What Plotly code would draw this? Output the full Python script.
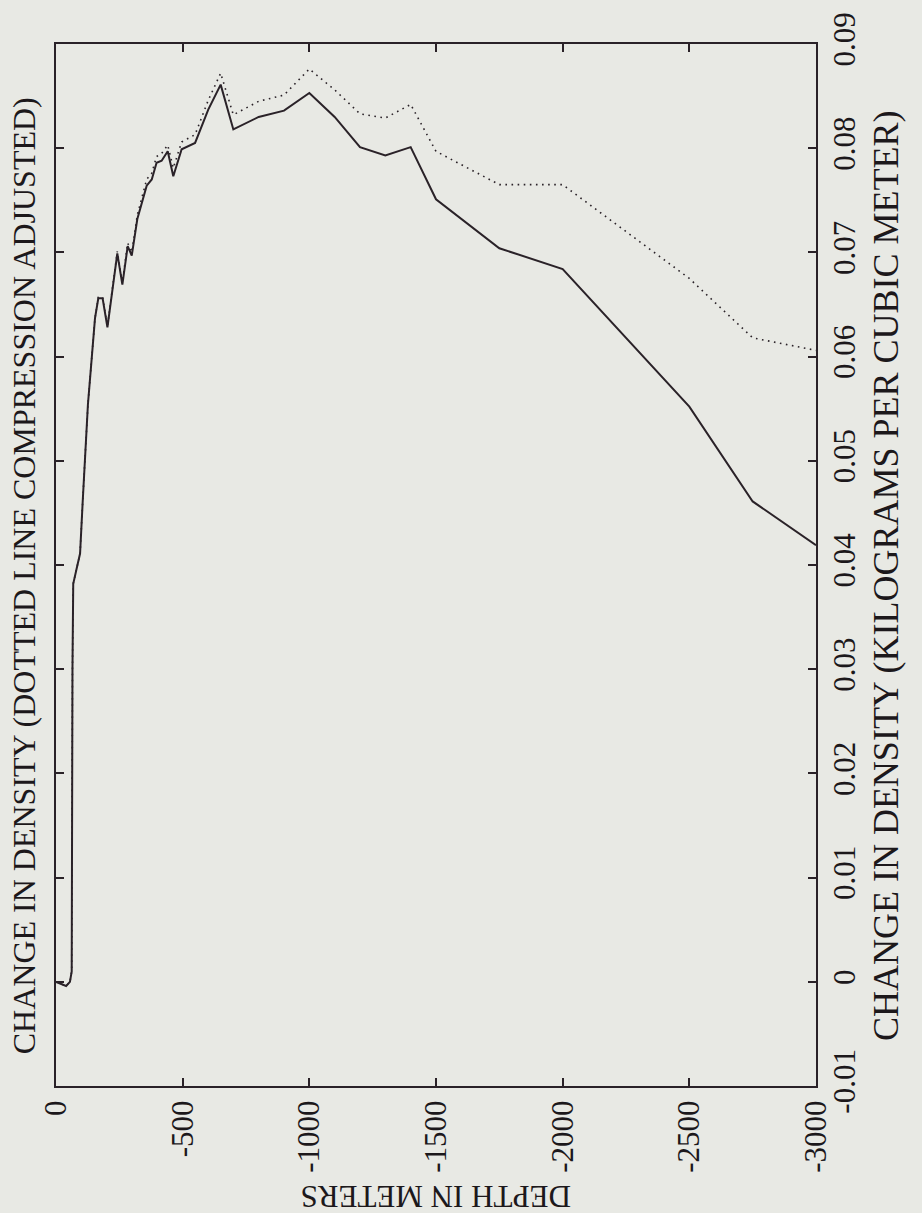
import plotly.graph_objects as go

# ---- data (depth in metres, change in density in kg/m^3) ----
solid_depth = [0, -20, -40, -55, -62, -65, -68, -80, -95, -105, -126, -154, -167, -184,
               -203, -242, -262, -283, -299, -321, -358, -378, -397, -417, -441, -463,
               -496, -549, -601, -650, -700, -800, -900, -1000, -1100, -1200, -1300,
               -1400, -1500, -1750, -2000, -2500, -2750, -3000]
solid_density = [0.0, -0.0002, -0.0004, 0.0, 0.001, 0.030, 0.0382, 0.0395, 0.0411, 0.0459,
                 0.0554, 0.0637, 0.0656, 0.0656, 0.0628, 0.0699, 0.0669, 0.0706, 0.0697,
                 0.0732, 0.0764, 0.0770, 0.0786, 0.0788, 0.0797, 0.0773, 0.0799, 0.0805,
                 0.0837, 0.0861, 0.0818, 0.0830, 0.0836, 0.0853, 0.0830, 0.0801, 0.0793,
                 0.0801, 0.0751, 0.0704, 0.0684, 0.0552, 0.0461, 0.0419]

dotted_depth = [0, -20, -40, -55, -62, -65, -68, -80, -95, -105, -126, -154, -167, -184,
                -203, -242, -262, -283, -299, -321, -358, -378, -397, -417, -441, -463,
                -496, -549, -601, -650, -700, -800, -900, -1000, -1100, -1200, -1300,
                -1400, -1500, -1750, -2000, -2500, -2750, -3000]
dotted_density = [0.0, -0.0002, -0.0004, 0.0, 0.001, 0.030, 0.0382, 0.0395, 0.0411, 0.0459,
                  0.0554, 0.0637, 0.0657, 0.0657, 0.0629, 0.0701, 0.0671, 0.0709, 0.0700,
                  0.0736, 0.0770, 0.0776, 0.0792, 0.0795, 0.0803, 0.0781, 0.0806, 0.0813,
                  0.0846, 0.0872, 0.0832, 0.0845, 0.0851, 0.0876, 0.0856, 0.0833, 0.0829,
                  0.0842, 0.0797, 0.0765, 0.0765, 0.0675, 0.0618, 0.0606]

depth_ticks = [0, -500, -1000, -1500, -2000, -2500, -3000]
depth_labels = ["0", "-500", "-1000", "-1500", "-2000", "-2500", "-3000"]
dens_ticks = [-0.01, 0, 0.01, 0.02, 0.03, 0.04, 0.05, 0.06, 0.07, 0.08, 0.09]
dens_labels = ["-0.01", "0", "0.01", "0.02", "0.03", "0.04", "0.05", "0.06", "0.07", "0.08", "0.09"]

title_text = "CHANGE IN DENSITY (DOTTED LINE COMPRESSION ADJUSTED)"
ylabel_text = "CHANGE IN DENSITY (KILOGRAMS PER CUBIC METER)"
xlabel_text = "DEPTH IN METERS"

INK = "#2a2228"
BG = "#e8e9e4"
TXT = "#1c181b"
FONT = "Liberation Serif, Times New Roman, serif"

fig = go.Figure()
fig.add_trace(go.Scatter(x=dotted_depth, y=dotted_density, mode="lines",
                         line=dict(color=INK, width=1.6, dash="1.6px,4.5px"),
                         showlegend=False, hoverinfo="skip"))
fig.add_trace(go.Scatter(x=solid_depth, y=solid_density, mode="lines",
                         line=dict(color=INK, width=2),
                         showlegend=False, hoverinfo="skip"))

fig.update_layout(
    width=922, height=1213,
    margin=dict(l=56, r=106, t=37, b=127),
    paper_bgcolor=BG, plot_bgcolor=BG,
    font=dict(family=FONT, color=TXT, size=30),
    xaxis=dict(range=[0, -3000], tickvals=depth_ticks, ticktext=depth_labels,
               tickangle=-90, ticks="inside", ticklen=8, tickwidth=2, tickcolor=INK,
               showline=True, linecolor=INK, linewidth=2, mirror="ticks",
               showgrid=False, zeroline=False,
               tickfont=dict(size=31, family=FONT, color=TXT)),
    yaxis=dict(range=[-0.01, 0.09], tickvals=dens_ticks, ticktext=dens_labels, side="right",
               tickangle=-90, ticks="inside", ticklen=8, tickwidth=2, tickcolor=INK,
               showline=True, linecolor=INK, linewidth=2, mirror="ticks",
               showgrid=False, zeroline=False,
               tickfont=dict(size=31, family=FONT, color=TXT)),
    annotations=[
        dict(text=title_text, xref="paper", yref="paper", x=-0.041, y=0.49,
             xanchor="center", yanchor="middle", textangle=-90, showarrow=False,
             font=dict(size=32, family=FONT, color=TXT)),
        dict(text=ylabel_text, xref="paper", yref="paper", x=1.093, y=0.49,
             xanchor="center", yanchor="middle", textangle=-90, showarrow=False,
             font=dict(size=36, family=FONT, color=TXT)),
        dict(text=xlabel_text, xref="paper", yref="paper", x=0.5, y=-0.106,
             xanchor="center", yanchor="middle", textangle=180, showarrow=False,
             font=dict(size=31, family=FONT, color=TXT)),
    ],
)

fig.write_html("out.html")
